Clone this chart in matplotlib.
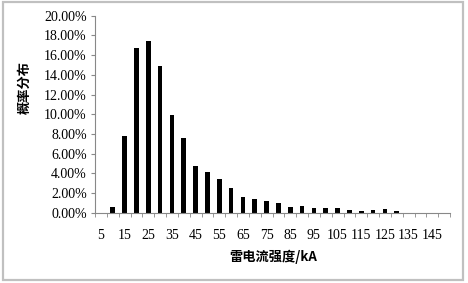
import matplotlib
matplotlib.use('Agg')
from matplotlib import pyplot as plt
from matplotlib.patches import Rectangle
from matplotlib.ticker import FuncFormatter, FixedLocator

# lightning current (kA) categories and probability (%)
currents = list(range(5, 155, 5))
probs = [0.0, 0.55, 7.75, 16.7, 17.45, 14.85, 9.95, 7.55, 4.7, 4.15,
         3.4, 2.55, 1.6, 1.35, 1.2, 1.0, 0.6, 0.65, 0.45, 0.5,
         0.5, 0.3, 0.2, 0.25, 0.35, 0.15, 0.0, 0.0, 0.0, 0.0]
x_labels = [str(c) for c in currents[::2]]

SERIF = ['Liberation Serif', 'DejaVu Serif']
CJK = ['Noto Sans CJK SC', 'DejaVu Sans']

fig = plt.figure(figsize=(4.68, 2.83), dpi=100)
fig.patches.append(Rectangle((0.006, 0.012), 0.984, 0.98, transform=fig.transFigure,
                             fill=False, edgecolor='#c0c0c0', linewidth=1.6))

ax = fig.add_axes([95 / 468, 70.3 / 283, 355 / 468, 197 / 283])
idx = list(range(len(currents)))
ax.bar(idx, [p / 100 for p in probs], width=0.4, color='black')

ax.set_xlim(-0.5, len(currents) - 0.5)
ax.set_ylim(0, 0.20)
ax.set_yticks([i * 0.02 for i in range(11)])
ax.yaxis.set_major_formatter(FuncFormatter(lambda v, p: '%.2f%%' % (v * 100)))

ax.set_xticks(idx[::2])
ax.set_xticklabels(x_labels)
ax.xaxis.set_minor_locator(FixedLocator([i - 0.5 for i in range(len(currents) + 1)]))
ax.tick_params(axis='x', which='major', length=0, pad=12)
ax.tick_params(axis='x', which='minor', length=3, color='#888888', direction='out')
ax.tick_params(axis='y', length=3, color='#888888', direction='out', pad=3)

for lab in ax.get_xticklabels() + ax.get_yticklabels():
    lab.set_family(SERIF)
    lab.set_fontsize(10)

for s in ['top', 'right']:
    ax.spines[s].set_visible(False)
for s in ['left', 'bottom']:
    ax.spines[s].set_color('#888888')
    ax.spines[s].set_linewidth(0.8)

fig.text(273 / 468, 1 - 256.7 / 283, '雷电流强度/kA', family=CJK, fontsize=9.5,
         fontweight='bold', ha='center', va='center')
fig.text(25 / 468, 1 - 88 / 283, '概率分布', family=CJK, fontsize=9.5,
         fontweight='bold', rotation=90, ha='center', va='center')

fig.savefig('out.png', dpi=100)
